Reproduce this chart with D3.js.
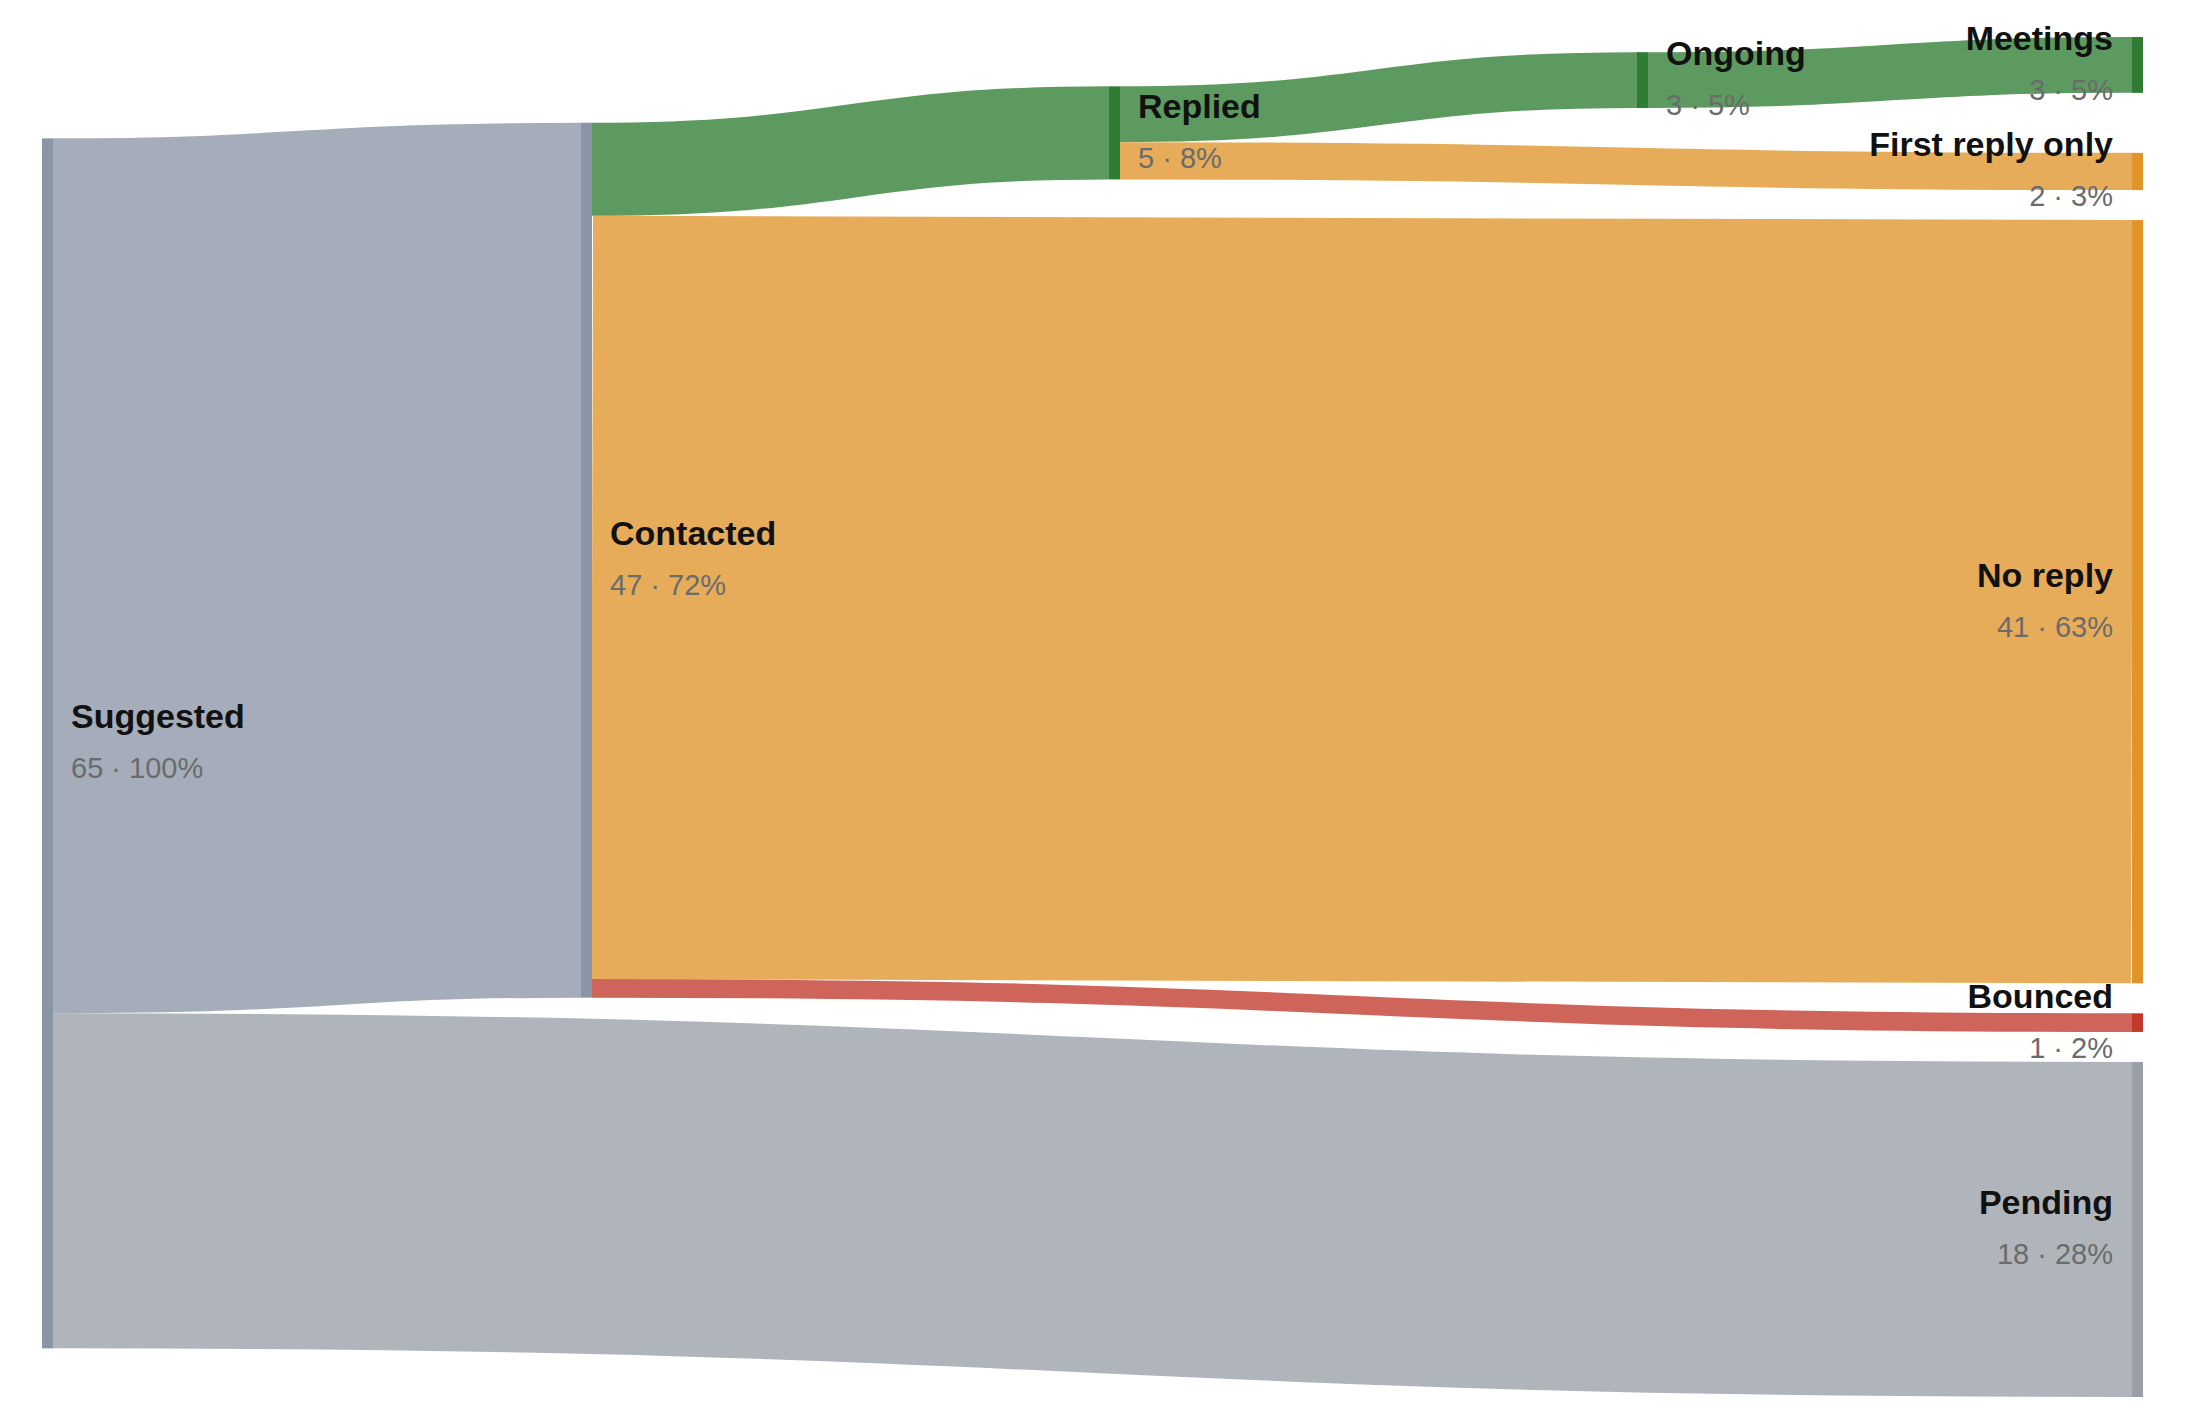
<!DOCTYPE html>
<html><head><meta charset="utf-8">
<script src="https://cdn.jsdelivr.net/npm/d3@7"></script>
<style>html,body{margin:0;padding:0;background:#fff;} svg{display:block;}</style>
</head><body><svg id="chart" width="2185" height="1421"></svg>
<script>
// ---------- data ----------
const stageNames = ["Suggested", "Contacted", "Replied", "Ongoing", "Meetings", "Declined", "First reply only", "No reply", "Bounced", "Pending"];
const stageTones = ["neutral", "neutral", "good", "good", "good", "bad", "warn", "warn", "bad", "waiting"];
const flowSources = ["Suggested", "Suggested", "Contacted", "Contacted", "Contacted", "Replied", "Replied", "Ongoing", "Replied"];
const flowTargets = ["Contacted", "Pending", "Replied", "No reply", "Bounced", "Ongoing", "First reply only", "Meetings", "Declined"];
const flowValues = [47, 18, 5, 41, 1, 3, 2, 3, 0];

// ---------- styles ----------
const W = 2185, H = 1421;
const toneColor = {neutral: "#8a96a5", waiting: "#9aa0a8", good: "#2e7d32", warn: "#e0952b", bad: "#c0392b"};
const linkOpacity = 0.78;
const fontFamily = "'Liberation Sans', Arial, Helvetica, sans-serif";

// ---------- sankey layout (d3-sankey style relaxation) ----------
function computeSankey(nodeNames, links, opt) {
  const [[X0, Y0], [X1, Y1]] = opt.extent;
  const dx = opt.nodeWidth, dy = opt.nodePadding, iterations = opt.iterations;
  const nodes = nodeNames.map((name, i) => ({name, index: i, sourceLinks: [], targetLinks: []}));
  const byName = new Map(nodes.map(n => [n.name, n]));
  const L = links.map((l, i) => ({index: i, source: byName.get(l.source), target: byName.get(l.target), value: l.value}));
  for (const l of L) { l.source.sourceLinks.push(l); l.target.targetLinks.push(l); }
  for (const n of nodes) n.value = Math.max(d3.sum(n.sourceLinks, d => d.value), d3.sum(n.targetLinks, d => d.value));
  let current = new Set(nodes), next = new Set(), x = 0;
  while (current.size) { for (const n of current) { n.depth = x; for (const {target} of n.sourceLinks) next.add(target); } ++x; current = next; next = new Set(); }
  const nCols = d3.max(nodes, d => d.depth) + 1;
  const columns = Array.from({length: nCols}, () => []);
  for (const n of nodes) {
    const i = n.sourceLinks.length ? n.depth : nCols - 1;
    n.layer = i;
    columns[i].push(n);
  }
  const py = Math.min(dy, (Y1 - Y0) / (d3.max(columns, c => c.length) - 1));
  const ascB = (a, b) => a.y0 - b.y0;
  const ascSrc = (a, b) => ascB(a.source, b.source) || a.index - b.index;
  const ascTgt = (a, b) => ascB(a.target, b.target) || a.index - b.index;
  function reorderLinks(ns) { for (const n of ns) { n.sourceLinks.sort(ascTgt); n.targetLinks.sort(ascSrc); } }
  function reorderNodeLinks(node) {
    for (const l of node.targetLinks) l.source.sourceLinks.sort(ascTgt);
    for (const l of node.sourceLinks) l.target.targetLinks.sort(ascSrc);
  }
  const ky = d3.min(columns, c => (Y1 - Y0 - (c.length - 1) * py) / d3.sum(c, d => d.value));
  for (const col of columns) {
    let y = Y0;
    for (const n of col) { n.y0 = y; n.y1 = y + n.value * ky; y = n.y1 + py; for (const l of n.sourceLinks) l.width = l.value * ky; }
    y = (Y1 - y + py) / (col.length + 1);
    col.forEach((n, i) => { n.y0 += y * (i + 1); n.y1 += y * (i + 1); });
    reorderLinks(col);
  }
  function targetTop(source, target) {
    let y = source.y0 - (source.sourceLinks.length - 1) * py / 2;
    for (const l of source.sourceLinks) { if (l.target === target) break; y += l.width + py; }
    for (const l of target.targetLinks) { if (l.source === source) break; y -= l.width; }
    return y;
  }
  function sourceTop(source, target) {
    let y = target.y0 - (target.targetLinks.length - 1) * py / 2;
    for (const l of target.targetLinks) { if (l.source === source) break; y += l.width + py; }
    for (const l of source.sourceLinks) { if (l.target === target) break; y -= l.width; }
    return y;
  }
  function resolveTB(ns, y, i, alpha) {
    for (; i < ns.length; ++i) { const n = ns[i]; const d = (y - n.y0) * alpha; if (d > 1e-6) { n.y0 += d; n.y1 += d; } y = n.y1 + py; }
  }
  function resolveBT(ns, y, i, alpha) {
    for (; i >= 0; --i) { const n = ns[i]; const d = (n.y1 - y) * alpha; if (d > 1e-6) { n.y0 -= d; n.y1 -= d; } y = n.y0 - py; }
  }
  function resolve(ns, alpha) {
    const i = ns.length >> 1; const s = ns[i];
    resolveBT(ns, s.y0 - py, i - 1, alpha);
    resolveTB(ns, s.y1 + py, i + 1, alpha);
    resolveBT(ns, Y1, ns.length - 1, alpha);
    resolveTB(ns, Y0, 0, alpha);
  }
  function relaxLR(alpha, beta) {
    for (let i = 1; i < columns.length; ++i) {
      const col = columns[i];
      for (const t of col) {
        let y = 0, w = 0;
        for (const l of t.targetLinks) { y += targetTop(l.source, t) * l.value; w += l.value; }
        if (!(w > 0)) continue;
        const d = (y / w - t.y0) * alpha; t.y0 += d; t.y1 += d; reorderNodeLinks(t);
      }
      resolve(col, beta);
    }
  }
  function relaxRL(alpha, beta) {
    for (let i = columns.length - 2; i >= 0; --i) {
      const col = columns[i];
      for (const s of col) {
        let y = 0, w = 0;
        for (const l of s.sourceLinks) { y += sourceTop(s, l.target) * l.value; w += l.value; }
        if (!(w > 0)) continue;
        const d = (y / w - s.y0) * alpha; s.y0 += d; s.y1 += d; reorderNodeLinks(s);
      }
      resolve(col, beta);
    }
  }
  for (let i = 0; i < iterations; ++i) {
    const alpha = Math.pow(0.99, i); const beta = Math.max(1 - alpha, (i + 1) / iterations);
    relaxRL(alpha, beta); relaxLR(alpha, beta);
  }
  for (const n of nodes) {
    let a = n.y0, b = a;
    for (const l of n.sourceLinks) { l.y0 = a + l.width / 2; a += l.width; }
    for (const l of n.targetLinks) { l.y1 = b + l.width / 2; b += l.width; }
  }
  return {nodes, links: L};
}

const flowTable = flowSources.map((s, i) => ({source: s, target: flowTargets[i], value: flowValues[i]}));
const layoutOpts = {extent: [[42, 37], [2143, 1397]], nodeWidth: 11, nodePadding: 30, iterations: 32};
const graph = computeSankey(stageNames, flowTable, layoutOpts);

// column positions
const colX = d3.scaleLinear().domain([0, 1, 3, 4]).range([42, 581, 1637, 2132]);
for (const n of graph.nodes) { n.x0 = colX(n.layer); n.x1 = n.x0 + layoutOpts.nodeWidth; }

const total = d3.max(graph.nodes, d => d.value);
const lastLayer = d3.max(graph.nodes, d => d.layer);
const tone = new Map(stageNames.map((n, i) => [n, stageTones[i]]));

const svg = d3.select("#chart");
svg.append("rect").attr("width", W).attr("height", H).attr("fill", "#fff");

const linkPath = d3.linkHorizontal().source(d => [d.source.x1, d.y0]).target(d => [d.target.x0, d.y1]);
svg.append("g").attr("fill", "none")
  .selectAll("path").data(graph.links.filter(l => l.value > 0)).join("path")
  .attr("d", linkPath)
  .attr("stroke", d => toneColor[tone.get(d.target.name)])
  .attr("stroke-opacity", linkOpacity)
  .attr("stroke-width", d => Math.max(1, d.width));

const shown = graph.nodes.filter(n => n.value > 0);
svg.append("g").selectAll("rect").data(shown).join("rect")
  .attr("x", d => d.x0).attr("y", d => d.y0)
  .attr("width", d => d.x1 - d.x0).attr("height", d => d.y1 - d.y0)
  .attr("fill", d => toneColor[tone.get(d.name)]);

const lab = svg.append("g").attr("font-family", fontFamily);
const isEnd = d => d.layer === lastLayer;
const lx = d => isEnd(d) ? d.x0 - 19 : d.x1 + 18;
const g = lab.selectAll("g").data(shown).join("g")
  .attr("text-anchor", d => isEnd(d) ? "end" : "start");
g.append("text").attr("x", lx).attr("y", d => (d.y0 + d.y1) / 2 - 15)
  .attr("font-size", 34).attr("font-weight", "bold").attr("fill", "#111").text(d => d.name);
g.append("text").attr("x", lx).attr("y", d => (d.y0 + d.y1) / 2 + 35)
  .attr("font-size", 29).attr("fill", "#6b6b6b")
  .text(d => `${d.value} · ${Math.round(d.value / total * 100)}%`);
</script></body></html>
